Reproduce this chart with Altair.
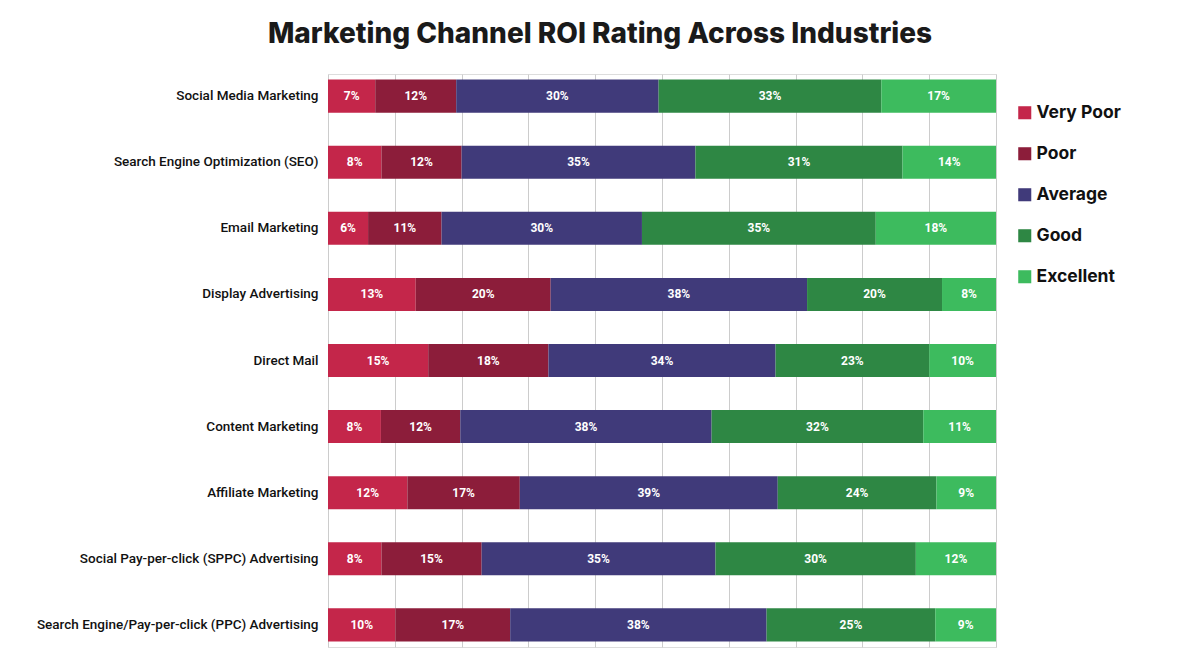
import altair as alt
import pandas as pd

channels = [
    "Social Media Marketing",
    "Search Engine Optimization (SEO)",
    "Email Marketing",
    "Display Advertising",
    "Direct Mail",
    "Content Marketing",
    "Affiliate Marketing",
    "Social Pay-per-click (SPPC) Advertising",
    "Search Engine/Pay-per-click (PPC) Advertising",
]
ratings = ["Very Poor", "Poor", "Average", "Good", "Excellent"]
colors = ["#C4264A", "#8C1D3A", "#403A7A", "#2E8744", "#3DBB5E"]

very_poor = [7, 8, 6, 13, 15, 8, 12, 8, 10]
poor = [12, 12, 11, 20, 18, 12, 17, 15, 17]
average = [30, 35, 30, 38, 34, 38, 39, 35, 38]
good = [33, 31, 35, 20, 23, 32, 24, 30, 25]
excellent = [17, 14, 18, 8, 10, 11, 9, 12, 9]

rows = []
for i, ch in enumerate(channels):
    for k, (name, series) in enumerate(zip(ratings, [very_poor, poor, average, good, excellent])):
        rows.append({"channel": ch, "rating": name, "value": series[i], "rank": k})
df = pd.DataFrame(rows)

base = (
    alt.Chart(df)
    .transform_stack(
        stack="value",
        groupby=["channel"],
        as_=["x0", "x1"],
        offset="normalize",
        sort=[alt.SortField("rank", order="ascending")],
    )
    .transform_calculate(mid="(datum.x0 + datum.x1) / 2", label="datum.value + '%'")
)

y_enc = alt.Y(
    "channel:N",
    sort=channels,
    title=None,
    scale=alt.Scale(paddingInner=0.5, paddingOuter=0.085),
    axis=alt.Axis(
        ticks=False,
        domain=False,
        labelFontSize=13.5,
        labelFont="Roboto",
        labelFontWeight=500,
        labelColor="#111111",
        labelPadding=10,
        labelLimit=320,
    ),
)

bars = base.mark_bar().encode(
    x=alt.X(
        "x0:Q",
        scale=alt.Scale(domain=[0, 1], nice=False),
        title=None,
        axis=alt.Axis(
            values=[i / 10 for i in range(11)],
            labels=False,
            ticks=False,
            domain=False,
            grid=True,
            gridColor="#cccccc",
            gridWidth=1,
        ),
    ),
    x2="x1:Q",
    y=y_enc,
    color=alt.Color(
        "rating:N",
        sort=ratings,
        scale=alt.Scale(domain=ratings, range=colors),
        legend=alt.Legend(
            title=None,
            orient="none",
            legendX=688,
            legendY=30,
            symbolType="square",
            symbolSize=170,
            symbolStrokeWidth=0,
            labelFontSize=17.5,
            labelFont="Inter",
            labelFontWeight=700,
            labelColor="#111111",
            rowPadding=22,
            labelOffset=3,
        ),
    ),
    order=alt.Order("rank:Q"),
)

labels = base.mark_text(
    color="white", fontSize=12, fontWeight=700, font="Roboto"
).encode(
    x="mid:Q",
    y=alt.Y("channel:N", sort=channels),
    text="label:N",
)

chart = (
    alt.layer(bars, labels)
    .properties(
        width=668,
        height=573,
        autosize=alt.AutoSizeParams(type="none"),
        padding={"left": 320, "top": 66, "right": 197, "bottom": 8},
        title=alt.TitleParams(
            "Marketing Channel ROI Rating Across Industries",
            font="Inter",
            fontSize=28,
            fontWeight=800,
            color="#1a1a1a",
            anchor="middle",
            dx=-62,
            offset=25,
        ),
    )
    .configure_view(stroke=None)
    .configure(background="white")
)

chart.save("out.html", embed_options={"renderer": "svg", "actions": False})
